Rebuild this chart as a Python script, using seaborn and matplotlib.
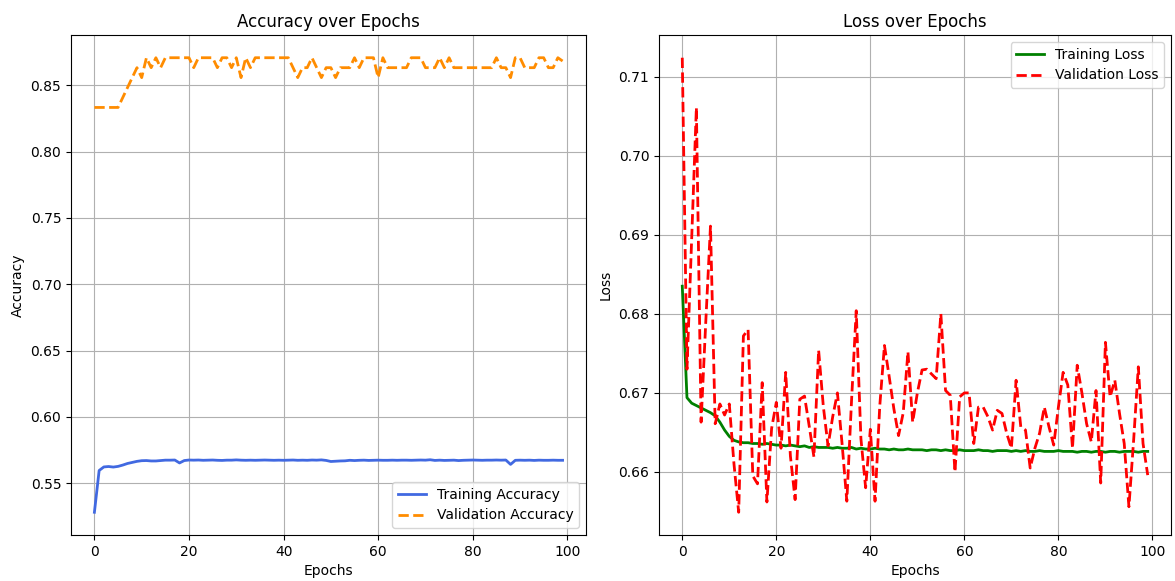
import numpy as np
import pandas as pd
import matplotlib
matplotlib.use("Agg")
import matplotlib.pyplot as plt
import seaborn as sns

epochs = list(range(100))

train_acc = [
    0.5280, 0.5595, 0.5622, 0.5625, 0.5621, 0.5626, 0.5636, 0.5648, 0.5656, 0.5664,
    0.5669, 0.5670, 0.5667, 0.5667, 0.5670, 0.5673, 0.5673, 0.5674, 0.5652, 0.5670,
    0.5674, 0.5673, 0.5674, 0.5672, 0.5673, 0.5674, 0.5672, 0.5671, 0.5673, 0.5673,
    0.5675, 0.5673, 0.5672, 0.5673, 0.5672, 0.5673, 0.5674, 0.5673, 0.5672, 0.5673,
    0.5672, 0.5673, 0.5674, 0.5672, 0.5673, 0.5672, 0.5674, 0.5673, 0.5675, 0.5671,
    0.5663, 0.5665, 0.5667, 0.5668, 0.5672, 0.5670, 0.5672, 0.5673, 0.5671, 0.5672,
    0.5673, 0.5672, 0.5672, 0.5673, 0.5672, 0.5673, 0.5673, 0.5672, 0.5673, 0.5674,
    0.5673, 0.5676, 0.5671, 0.5673, 0.5671, 0.5672, 0.5673, 0.5670, 0.5672, 0.5673,
    0.5674, 0.5673, 0.5672, 0.5673, 0.5673, 0.5674, 0.5673, 0.5674, 0.5641, 0.5672,
    0.5673, 0.5672, 0.5673, 0.5671, 0.5673, 0.5672, 0.5672, 0.5673, 0.5672, 0.5672,
]

val_acc = [
    0.8333, 0.8333, 0.8333, 0.8333, 0.8333, 0.8333, 0.8408, 0.8483, 0.8558, 0.8633,
    0.8558, 0.8708, 0.8633, 0.8708, 0.8633, 0.8708, 0.8708, 0.8708, 0.8708, 0.8708,
    0.8708, 0.8633, 0.8708, 0.8708, 0.8708, 0.8708, 0.8633, 0.8708, 0.8708, 0.8633,
    0.8708, 0.8558, 0.8708, 0.8633, 0.8708, 0.8708, 0.8708, 0.8708, 0.8708, 0.8708,
    0.8708, 0.8708, 0.8633, 0.8558, 0.8633, 0.8633, 0.8708, 0.8633, 0.8558, 0.8633,
    0.8633, 0.8558, 0.8633, 0.8633, 0.8633, 0.8708, 0.8633, 0.8708, 0.8708, 0.8708,
    0.8558, 0.8708, 0.8633, 0.8633, 0.8633, 0.8633, 0.8633, 0.8708, 0.8708, 0.8708,
    0.8633, 0.8633, 0.8633, 0.8708, 0.8633, 0.8708, 0.8633, 0.8633, 0.8633, 0.8633,
    0.8633, 0.8633, 0.8633, 0.8633, 0.8633, 0.8708, 0.8633, 0.8633, 0.8558, 0.8708,
    0.8708, 0.8633, 0.8633, 0.8633, 0.8708, 0.8708, 0.8633, 0.8633, 0.8708, 0.8683,
]

train_loss = [
    0.6835, 0.6694, 0.6687, 0.6684, 0.6681, 0.6678, 0.6675, 0.6671, 0.6663, 0.6653,
    0.6645, 0.6640, 0.6638, 0.6637, 0.6637, 0.6636, 0.6636, 0.6635, 0.6636, 0.6635,
    0.6634, 0.6634, 0.6633, 0.6634, 0.6633, 0.6632, 0.6633, 0.6631, 0.6632, 0.6631,
    0.6631, 0.6631, 0.6630, 0.6631, 0.6630, 0.6630, 0.6631, 0.6629, 0.6630, 0.6629,
    0.6629, 0.6630, 0.6629, 0.6629, 0.6628, 0.6629, 0.6628, 0.6628, 0.6629, 0.6628,
    0.6628, 0.6628, 0.6627, 0.6628, 0.6628, 0.6627, 0.6628, 0.6627, 0.6627, 0.6628,
    0.6627, 0.6627, 0.6627, 0.6628, 0.6627, 0.6627, 0.6626, 0.6627, 0.6627, 0.6627,
    0.6626, 0.6627, 0.6626, 0.6627, 0.6626, 0.6626, 0.6627, 0.6626, 0.6626, 0.6626,
    0.6627, 0.6626, 0.6626, 0.6626, 0.6625, 0.6626, 0.6626, 0.6625, 0.6626, 0.6626,
    0.6625, 0.6626, 0.6626, 0.6625, 0.6626, 0.6626, 0.6626, 0.6625, 0.6626, 0.6626,
]

val_loss = [
    0.7124, 0.6730, 0.6895, 0.7061, 0.6663, 0.6790, 0.6911, 0.6661, 0.6686, 0.6672,
    0.6686, 0.6610, 0.6549, 0.6772, 0.6780, 0.6595, 0.6585, 0.6713, 0.6562, 0.6655,
    0.6688, 0.6630, 0.6726, 0.6620, 0.6565, 0.6692, 0.6696, 0.6658, 0.6619, 0.6754,
    0.6683, 0.6633, 0.6670, 0.6700, 0.6635, 0.6563, 0.6690, 0.6804, 0.6642, 0.6580,
    0.6654, 0.6563, 0.6683, 0.6760, 0.6721, 0.6680, 0.6646, 0.6675, 0.6752, 0.6663,
    0.6700, 0.6729, 0.6730, 0.6724, 0.6718, 0.6800, 0.6703, 0.6697, 0.6600, 0.6695,
    0.6700, 0.6700, 0.6636, 0.6682, 0.6682, 0.6670, 0.6653, 0.6678, 0.6674, 0.6649,
    0.6630, 0.6716, 0.6657, 0.6653, 0.6605, 0.6630, 0.6649, 0.6682, 0.6657, 0.6634,
    0.6682, 0.6726, 0.6710, 0.6630, 0.6735, 0.6700, 0.6661, 0.6638, 0.6703, 0.6586,
    0.6764, 0.6695, 0.6716, 0.6674, 0.6636, 0.6556, 0.6640, 0.6733, 0.6636, 0.6596,
]

fig = plt.figure(figsize=(11.75, 5.81), dpi=100)
ax1 = fig.add_axes([71 / 1175, 1 - 535 / 581, (586 - 71) / 1175, (535 - 35) / 581])
ax2 = fig.add_axes([659 / 1175, 1 - 535 / 581, (1171 - 659) / 1175, (535 - 35) / 581])

sns.lineplot(x=epochs, y=train_acc, ax=ax1, color="royalblue", linewidth=2,
             label="Training Accuracy")
sns.lineplot(x=epochs, y=val_acc, ax=ax1, color="darkorange", linewidth=2,
             linestyle="--", label="Validation Accuracy")
ax1.set_title("Accuracy over Epochs")
ax1.set_xlabel("Epochs")
ax1.set_ylabel("Accuracy")
ax1.grid(True)
ax1.legend(loc="lower right")

sns.lineplot(x=epochs, y=train_loss, ax=ax2, color="green", linewidth=2,
             label="Training Loss")
sns.lineplot(x=epochs, y=val_loss, ax=ax2, color="red", linewidth=2,
             linestyle="--", label="Validation Loss")
ax2.set_title("Loss over Epochs")
ax2.set_xlabel("Epochs")
ax2.set_ylabel("Loss")
ax2.grid(True)
ax2.legend(loc="upper right")

fig.savefig("out.png", dpi=100)
